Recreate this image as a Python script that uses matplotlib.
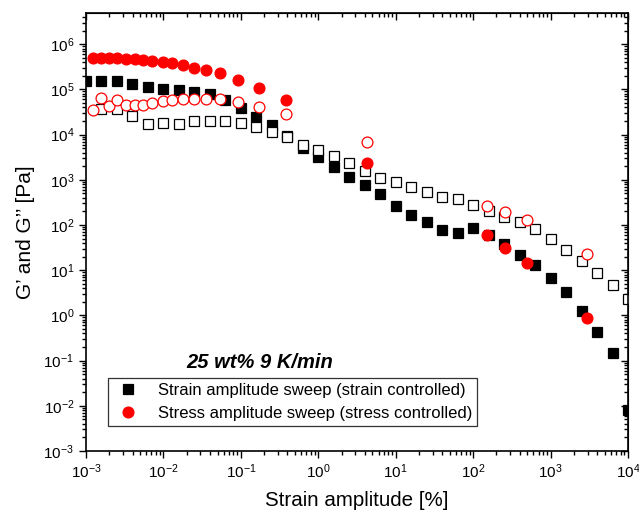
import numpy as np
import matplotlib
matplotlib.use("Agg")
import matplotlib.pyplot as plt
from matplotlib.ticker import LogLocator, NullFormatter

plt.rcParams["font.family"] = ["Liberation Sans", "DejaVu Sans"]
plt.rcParams["mathtext.fontset"] = "custom"
plt.rcParams["mathtext.rm"] = "Liberation Sans"
plt.rcParams["mathtext.it"] = "Liberation Sans:italic"

# ------------------------------------------------------------------ #
# data (strain amplitude in %, moduli in Pa)
# ------------------------------------------------------------------ #
strain_x = [1.00e-3, 1.58e-3, 2.51e-3, 3.98e-3, 6.31e-3,
            1.00e-2, 1.58e-2, 2.51e-2, 3.98e-2, 6.31e-2,
            0.100, 0.158, 0.251, 0.398, 0.631,
            1.00, 1.58, 2.51, 3.98, 6.31,
            10.0, 15.8, 25.1, 39.8, 63.1,
            100, 158, 251, 398, 631,
            1000, 1580, 2510, 3980, 6310,
            10000]
strain_Gp = [1.54e5, 1.54e5, 1.54e5, 1.30e5, 1.14e5,
             1.03e5, 9.6e4, 8.8e4, 8.0e4, 5.8e4,
             3.9e4, 2.47e4, 1.66e4, 9.1e3, 5.1e3,
             3.2e3, 1.93e3, 1.16e3, 760, 480,
             261, 165, 114, 79, 67,
             86, 59, 37.6, 22, 12.9,
             6.8, 3.26, 1.26, 0.44, 0.144,
             0.0082]
strain_Gpp = [np.nan, 3.71e4, 3.78e4, 2.62e4, 1.70e4,
              1.85e4, 1.76e4, 2.0e4, 1.98e4, 1.98e4,
              1.83e4, 1.48e4, 1.17e4, 8.75e3, 5.98e3,
              4.52e3, 3.33e3, 2.41e3, 1.57e3, 1.10e3,
              885, 697, 540, 427, 367,
              281, 205, 151, 119, 82,
              49.8, 28.4, 16.0, 8.6, 4.66,
              2.25]

stress_x = [1.24e-3, 1.56e-3, 2.0e-3, 2.54e-3, 3.29e-3, 4.30e-3,
            5.49e-3, 7.06e-3, 9.8e-3, 1.28e-2, 1.77e-2, 2.51e-2,
            3.55e-2, 5.38e-2, 9.3e-2, 0.170, 0.384, 4.24,
            149, 257, 491, 2970]
stress_Gp = [4.83e5, 4.9e5, 4.83e5, 4.83e5, 4.59e5, 4.59e5,
             4.54e5, 4.27e5, 4.0e5, 3.86e5, 3.48e5, 3.05e5,
             2.66e5, 2.25e5, 1.60e5, 1.09e5, 5.77e4, 2.37e3,
             59.4, 30.7, 14.1, 0.87]
stress_Gpp = [3.47e4, 6.62e4, 4.36e4, 5.77e4, 4.47e4, 4.63e4,
              4.63e4, 5.03e4, 5.40e4, 5.86e4, 6.07e4, 6.23e4,
              6.07e4, 5.98e4, 5.21e4, 4.10e4, 2.80e4, 6.89e3,
              270, 195, 132, 23]

legend_labels = ["Strain amplitude sweep (strain controlled)",
                 "Stress amplitude sweep (stress controlled)"]

# ------------------------------------------------------------------ #
# figure
# ------------------------------------------------------------------ #
fig = plt.figure(figsize=(6.39, 5.18), dpi=100)
ax = fig.add_axes([0.1346, 0.1293, 0.8482, 0.8456])

sq = dict(marker="s", markersize=7.2, linestyle="none", markeredgewidth=0.9)
ci = dict(marker="o", markersize=7.8, linestyle="none", markeredgewidth=0.9)

h1, = ax.plot(strain_x, strain_Gp, color="black", label=legend_labels[0], **sq)
ax.plot(strain_x, strain_Gpp, color="black", markerfacecolor="white", **sq)
h2, = ax.plot(stress_x, stress_Gp, color="#ff0000", label=legend_labels[1], **ci)
ax.plot(stress_x, stress_Gpp, color="#ff0000", markerfacecolor="white", **ci)

ax.set_xscale("log")
ax.set_yscale("log")
ax.set_xlim(1e-3, 1e4)
ax.set_ylim(1e-3, 4.9e6)

minor = LogLocator(base=10, subs=np.arange(2, 10), numticks=20)
ax.xaxis.set_major_locator(LogLocator(base=10, numticks=20))
ax.yaxis.set_major_locator(LogLocator(base=10, numticks=20))
ax.xaxis.set_minor_locator(minor)
ax.yaxis.set_minor_locator(LogLocator(base=10, subs=np.arange(2, 10), numticks=20))
ax.xaxis.set_minor_formatter(NullFormatter())
ax.yaxis.set_minor_formatter(NullFormatter())

for s in ax.spines.values():
    s.set_linewidth(1.2)

ax.tick_params(which="both", direction="out", top=False, right=False,
               width=1.0, labelsize=11, colors="black")
ax.tick_params(which="major", length=5)
ax.tick_params(which="minor", length=3)

# mirrored axes with inward ticks (top / right)
axt = ax.secondary_xaxis("top")
axt.tick_params(which="both", direction="in", labeltop=False, width=1.0)
axt.tick_params(which="major", length=5)
axt.tick_params(which="minor", length=3)
axt.xaxis.set_major_locator(LogLocator(base=10, numticks=20))
axt.xaxis.set_minor_locator(LogLocator(base=10, subs=np.arange(2, 10), numticks=20))
axt.xaxis.set_minor_formatter(NullFormatter())
axt.set_xticklabels([])

axr = ax.secondary_yaxis("right")
axr.tick_params(which="both", direction="in", labelright=False, width=1.0)
axr.tick_params(which="major", length=5)
axr.tick_params(which="minor", length=3)
axr.yaxis.set_major_locator(LogLocator(base=10, numticks=20))
axr.yaxis.set_minor_locator(LogLocator(base=10, subs=np.arange(2, 10), numticks=20))
axr.yaxis.set_minor_formatter(NullFormatter())
axr.set_yticklabels([])

ax.set_xlabel("Strain amplitude [%]", fontsize=14.8, labelpad=7)
ax.set_ylabel("G’ and G’’ [Pa]", fontsize=15, labelpad=6)

ax.text(0.321, 0.203, "25 wt% 9 K/min", transform=ax.transAxes,
        fontsize=14.5, fontweight="bold", fontstyle="italic", ha="center", va="center")

leg = ax.legend(handles=[h1, h2], loc="upper left", bbox_to_anchor=(0.0406, 0.1667),
                borderaxespad=0, fontsize=12, frameon=True, fancybox=False,
                handletextpad=0.9, borderpad=0.3, labelspacing=0.45, handlelength=1.8)
leg.get_frame().set_edgecolor("black")
leg.get_frame().set_linewidth(0.9)

fig.savefig("out.png", dpi=100)
